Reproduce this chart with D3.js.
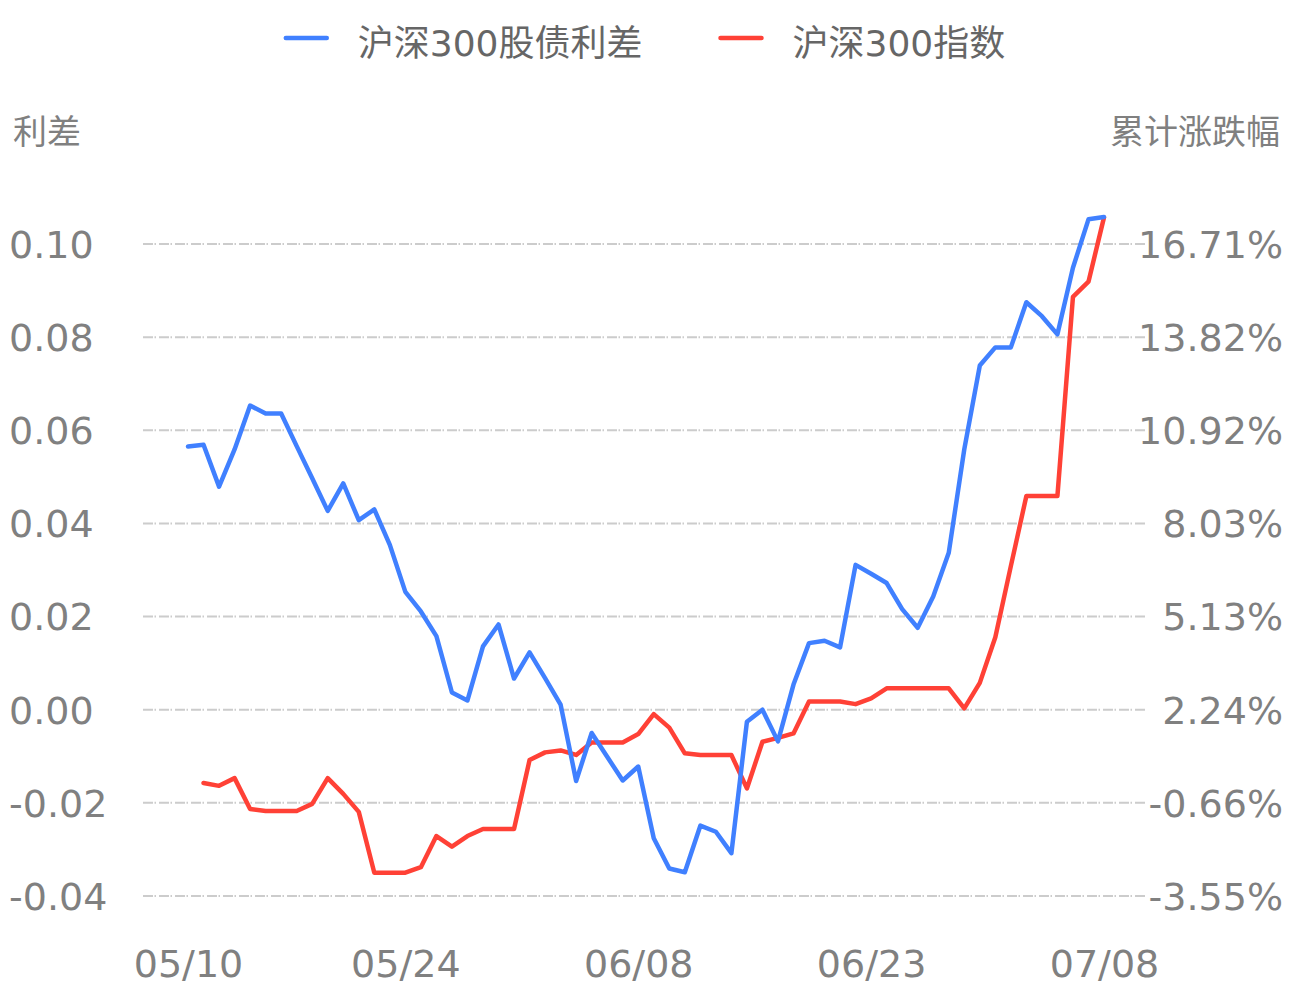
<!DOCTYPE html>
<html>
<head>
<meta charset="utf-8">
<script src="https://cdn.jsdelivr.net/npm/d3@7"></script>
<style>
  html, body { margin: 0; padding: 0; background: #fff; }
  svg text { font-family: "DejaVu Sans", "Noto Sans CJK SC", sans-serif; }
</style>
</head>
<body>
<svg id="chart" width="1291" height="990"></svg>
<script>
const dates = [
  "2024-05-10","2024-05-11","2024-05-12","2024-05-13","2024-05-14","2024-05-15","2024-05-16","2024-05-17","2024-05-18","2024-05-19",
  "2024-05-20","2024-05-21","2024-05-22","2024-05-23","2024-05-24","2024-05-25","2024-05-26","2024-05-27","2024-05-28","2024-05-29",
  "2024-05-30","2024-05-31","2024-06-01","2024-06-02","2024-06-03","2024-06-04","2024-06-05","2024-06-06","2024-06-07","2024-06-08",
  "2024-06-09","2024-06-10","2024-06-11","2024-06-12","2024-06-13","2024-06-14","2024-06-15","2024-06-16","2024-06-17","2024-06-18",
  "2024-06-19","2024-06-20","2024-06-21","2024-06-22","2024-06-23","2024-06-24","2024-06-25","2024-06-26","2024-06-27","2024-06-28",
  "2024-06-29","2024-06-30","2024-07-01","2024-07-02","2024-07-03","2024-07-04","2024-07-05","2024-07-06","2024-07-07","2024-07-08"
];
const spread = [
  0.0565, 0.0569, 0.0479, 0.0559, 0.0653, 0.0636, 0.0636, 0.0566, 0.0497, 0.0427,
  0.0486, 0.0407, 0.0430, 0.0354, 0.0253, 0.0211, 0.0158, 0.0037, 0.0020, 0.0136,
  0.0183, 0.0067, 0.0123, 0.0068, 0.0011, -0.0153, -0.0050, -0.0101, -0.0152, -0.0122,
  -0.0276, -0.0341, -0.0349, -0.0249, -0.0262, -0.0308, -0.0026, 0.0000, -0.0068, 0.0054,
  0.0143, 0.0148, 0.0134, 0.0311, 0.0292, 0.0272, 0.0216, 0.0176, 0.0243, 0.0337,
  0.0559, 0.0739, 0.0778, 0.0778, 0.0875, 0.0845, 0.0806, 0.0949, 0.1053, 0.1058
];
const indexChange = [
  null, -0.04, -0.13, 0.11, -0.85, -0.91, -0.91, -0.91, -0.69, 0.11,
  -0.38, -0.94, -2.83, -2.83, -2.83, -2.66, -1.69, -2.02, -1.69, -1.47,
  -1.47, -1.47, 0.67, 0.91, 0.97, 0.83, 1.22, 1.22, 1.22, 1.48,
  2.10, 1.68, 0.88, 0.83, 0.83, 0.83, -0.21, 1.24, 1.36, 1.50,
  2.49, 2.49, 2.49, 2.41, 2.59, 2.90, 2.90, 2.90, 2.90, 2.90,
  2.28, 3.07, 4.49, 6.70, 8.88, 8.88, 8.88, 15.07, 15.54, 17.54
];
const seriesNames = ["沪深300股债利差", "沪深300指数"];
const leftTitle = "利差";
const rightTitle = "累计涨跌幅";
const xTickDates = ["2024-05-10","2024-05-24","2024-06-08","2024-06-23","2024-07-08"];
const leftTicks = [-0.04, -0.02, 0.00, 0.02, 0.04, 0.06, 0.08, 0.10];
const rightTickLabels = ["-3.55%","-0.66%","2.24%","5.13%","8.03%","10.92%","13.82%","16.71%"];
const rightDomain = [-3.554, 16.712];

const colors = ["#4080ff", "#ff4136"];
const parse = d3.timeParse("%Y-%m-%d");
const svg = d3.select("#chart");

const plot = { left: 143, right: 1145, top: 244, bottom: 896 };
const x = d3.scaleTime()
  .domain([parse(dates[0]), parse(dates[dates.length - 1])])
  .range([188, 1104]);
const yL = d3.scaleLinear().domain([-0.04, 0.10]).range([plot.bottom, plot.top]);
const yR = d3.scaleLinear().domain(rightDomain).range([plot.bottom, plot.top]);

// grid lines
svg.append("g").selectAll("line").data(leftTicks).join("line")
  .attr("x1", plot.left).attr("x2", plot.right)
  .attr("y1", d => yL(d)).attr("y2", d => yL(d))
  .attr("stroke", "#cccccc").attr("stroke-width", 2)
  .attr("stroke-dasharray", "10,1.5,1.5,3");

const tickFont = 38;
// left axis labels
const leftAxis = d3.axisLeft(yL).tickValues(leftTicks).tickFormat(d3.format(".2f")).tickSize(0);
const gL = svg.append("g").attr("transform", "translate(9,0)").call(leftAxis);
gL.select(".domain").remove();
gL.selectAll("text")
  .attr("x", 0).attr("dy", "0.35em")
  .attr("text-anchor", "start")
  .attr("fill", "#808080").style("font-size", tickFont + "px")
  .text(d => d3.format(".2f")(d).replace("−", "-"));

// right axis labels
const rightTickValues = rightTickLabels.map((s, i) => rightDomain[0] + i * (rightDomain[1] - rightDomain[0]) / (rightTickLabels.length - 1));
const rightAxis = d3.axisRight(yR).tickValues(rightTickValues).tickFormat((d, i) => rightTickLabels[i]).tickSize(0);
const gR = svg.append("g").attr("transform", "translate(1283,0)").call(rightAxis);
gR.select(".domain").remove();
gR.selectAll("text")
  .attr("x", 0).attr("dy", "0.35em")
  .attr("text-anchor", "end")
  .attr("fill", "#808080").style("font-size", tickFont + "px");

// x axis labels
const xAxis = d3.axisBottom(x).tickValues(xTickDates.map(parse)).tickFormat(d3.timeFormat("%m/%d")).tickSize(0);
const gX = svg.append("g").call(xAxis);
gX.select(".domain").remove();
gX.selectAll("text")
  .attr("y", 977).attr("dy", null)
  .attr("fill", "#808080").style("font-size", tickFont + "px");

// axis titles
svg.append("text").attr("x", 13).attr("y", 144).attr("fill", "#808080")
  .style("font-size", "34px").text(leftTitle);
svg.append("text").attr("x", 1280).attr("y", 144).attr("text-anchor", "end").attr("fill", "#808080")
  .style("font-size", "34px").text(rightTitle);

// lines
const lineL = d3.line().defined(d => d.v != null).x(d => x(d.t)).y(d => yL(d.v));
const lineR = d3.line().defined(d => d.v != null).x(d => x(d.t)).y(d => yR(d.v));
const dataL = dates.map((d, i) => ({ t: parse(d), v: spread[i] }));
const dataR = dates.map((d, i) => ({ t: parse(d), v: indexChange[i] }));

svg.append("path").datum(dataR).attr("d", lineR)
  .attr("fill", "none").attr("stroke", colors[1]).attr("stroke-width", 4.5)
  .attr("stroke-linejoin", "round").attr("stroke-linecap", "round");
svg.append("path").datum(dataL).attr("d", lineL)
  .attr("fill", "none").attr("stroke", colors[0]).attr("stroke-width", 4.5)
  .attr("stroke-linejoin", "round").attr("stroke-linecap", "round");

// legend (centered)
const legend = svg.append("g");
const items = legend.selectAll("g").data(seriesNames).join("g");
items.append("line").attr("x1", 0).attr("x2", 41).attr("y1", 38).attr("y2", 38)
  .attr("stroke", (d, i) => colors[i]).attr("stroke-width", 4.5).attr("stroke-linecap", "round");
items.append("text").attr("x", 72).attr("y", 56).attr("fill", "#666666")
  .style("font-size", "36px").text(d => d);
const gap = 78;
const widths = items.nodes().map(n => n.getBBox().width);
const total = d3.sum(widths) + gap * (widths.length - 1);
let cx = (1291 - total) / 2;
items.attr("transform", (d, i) => {
  const t = `translate(${cx},0)`;
  cx += widths[i] + gap;
  return t;
});
</script>
</body>
</html>
